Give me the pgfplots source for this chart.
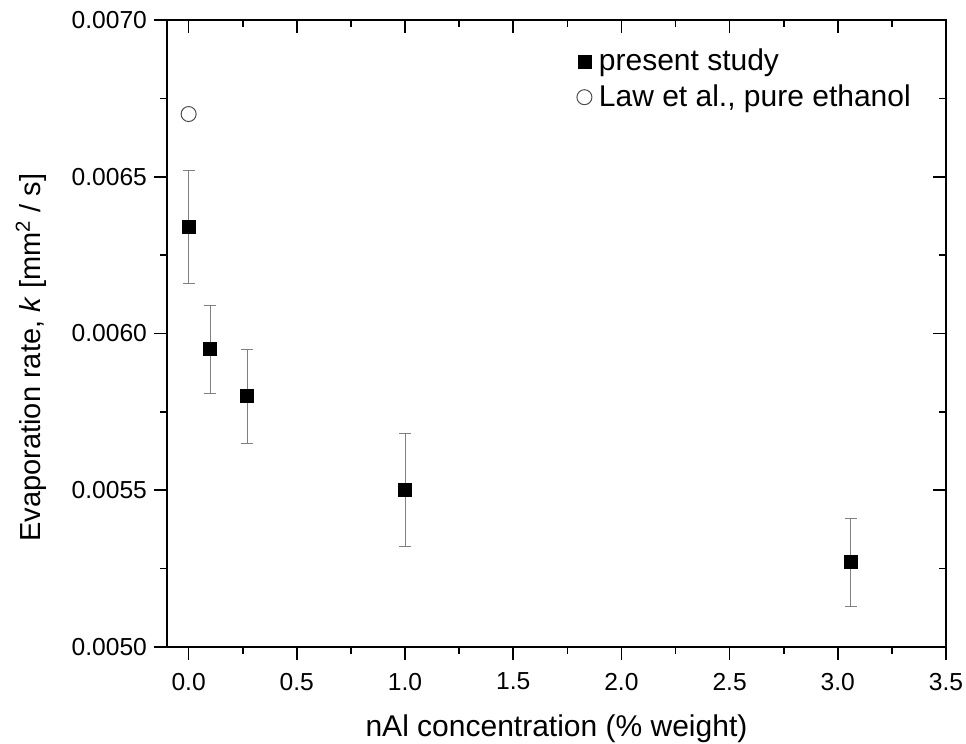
\documentclass[border=0pt]{standalone}
\usepackage{fontspec}
\setmainfont{Liberation Sans}
\usepackage{pgfplots}
\pgfplotsset{compat=1.18}
\begin{document}
\begin{tikzpicture}
\path[use as bounding box] (-83.5pt,-48.5pt) rectangle (399.5pt,323.5pt);
\pgfplotsset{
  common/.style={
    width=389.5pt, height=313.5pt, scale only axis,
    at={(0pt,0pt)}, anchor=south west,
    xmin=-0.1, xmax=3.5, ymin=0.005, ymax=0.007,
    xtick={0,0.5,...,3.5},
    ytick={0.005,0.0055,0.006,0.0065,0.007},
    minor x tick num=1, minor y tick num=1,
    major tick length=6.5pt, minor tick length=3.5pt,
    axis line style={line width=0.8pt},
    every tick/.style={line width=0.8pt, black},
    scaled y ticks=false, scaled x ticks=false,
  }
}
\begin{axis}[common,
  xtick pos=left, ytick pos=left, tick align=outside,
  font=\fontsize{12.3pt}{14pt}\selectfont,
  /pgf/number format/assume math mode=true,
  yticklabel style={/pgf/number format/.cd, fixed, fixed zerofill, precision=4},
  xticklabel style={yshift=-3pt, /pgf/number format/.cd, fixed, fixed zerofill, precision=1},
  xlabel={nAl concentration (\% weight)},
  ylabel={Evaporation rate, \textit{k} [mm\textsuperscript{2} / s]},
  xlabel style={at={(axis description cs:0.5,-0.131)}, anchor=center,
    font=\fontsize{15pt}{18pt}\selectfont},
  ylabel style={at={(axis description cs:-0.1746,0.4617)}, anchor=center,
    font=\fontsize{14.5pt}{17pt}\selectfont},
  legend style={at={(axis description cs:0.518,0.967)}, anchor=north west, draw=none, fill=none,
    font=\fontsize{15pt}{18pt}\selectfont, row sep=1.5pt,
    /tikz/every odd column/.append style={column sep=1.5pt}},
  legend cell align=left,
]
\addplot[only marks, mark=square*, mark size=3.25pt, black,
  error bars/.cd, y dir=both, y explicit,
  error bar style={gray, line width=0.5pt},
  error mark options={rotate=90, mark size=3pt, gray, line width=0.5pt}]
  coordinates {
  (0.0, 0.00634) +- (0, 0.00018)
  (0.1, 0.00595) +- (0, 0.00014)
  (0.27, 0.00580) +- (0, 0.00015)
  (1.0, 0.00550) +- (0, 0.00018)
  (3.06, 0.00527) +- (0, 0.00014)
  };
\addlegendentry{present study}
\addplot[only marks, mark=o, mark size=3.75pt, black!70, line width=0.5pt]
  coordinates {(0.0, 0.00670)};
\addlegendentry{Law et al., pure ethanol}
\end{axis}
\begin{axis}[common,
  xtick pos=right, ytick pos=right, tick align=inside,
  xticklabels={}, yticklabels={},
]
\end{axis}
\end{tikzpicture}
\end{document}
